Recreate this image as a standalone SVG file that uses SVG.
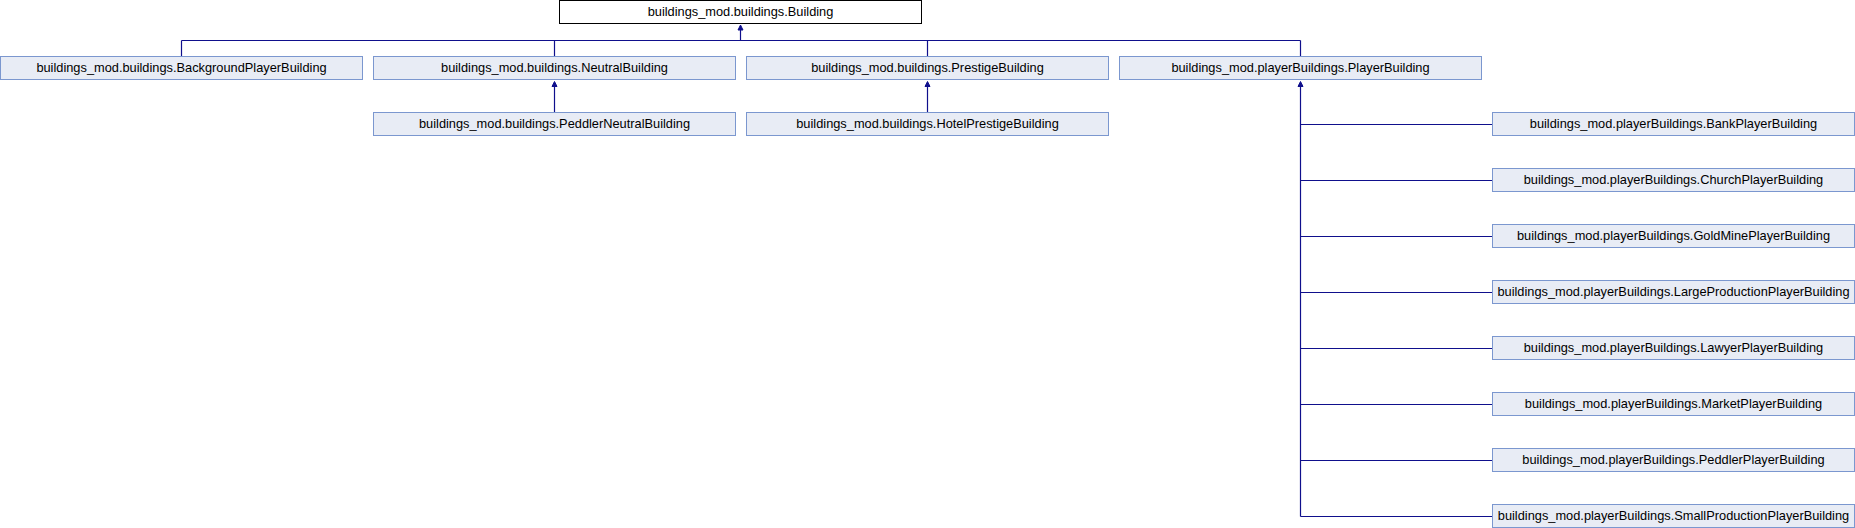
<svg xmlns="http://www.w3.org/2000/svg" width="1855" height="528" viewBox="0 0 1855 528">
<defs>
<style>
.n rect{fill:#e8ecf5;stroke:#7b97cf;stroke-width:1}
.top rect{fill:#ffffff;stroke:#000000;stroke-width:1}
text{font-family:"Liberation Sans",Arial,sans-serif;font-size:12.8px;fill:#000000;text-anchor:middle}
.e line{stroke:#0f0f8c;stroke-width:1.2;fill:none}
.e polygon{fill:#0f0f8c;stroke:#0f0f8c;stroke-width:1}
</style>
</defs>
<rect x="0" y="0" width="1855" height="528" fill="#ffffff"/>
<g id="connectors" class="e">
<line x1="740.5" y1="40.5" x2="740.5" y2="30"/>
<polygon points="738,30 740.5,25 743,30"/>
<line x1="181.5" y1="40.5" x2="1300.5" y2="40.5"/>
<line x1="181.5" y1="40.5" x2="181.5" y2="56.5"/>
<line x1="554.5" y1="40.5" x2="554.5" y2="56.5"/>
<line x1="927.5" y1="40.5" x2="927.5" y2="56.5"/>
<line x1="1300.5" y1="40.5" x2="1300.5" y2="56.5"/>
<line x1="554.5" y1="112.5" x2="554.5" y2="86.5"/>
<polygon points="552,86.5 554.5,81.5 557,86.5"/>
<line x1="927.5" y1="112.5" x2="927.5" y2="86.5"/>
<polygon points="925,86.5 927.5,81.5 930,86.5"/>
<line x1="1300.5" y1="516.5" x2="1300.5" y2="86.5"/>
<polygon points="1298,86.5 1300.5,81.5 1303,86.5"/>
<line x1="1300.5" y1="124.5" x2="1492.5" y2="124.5"/>
<line x1="1300.5" y1="180.5" x2="1492.5" y2="180.5"/>
<line x1="1300.5" y1="236.5" x2="1492.5" y2="236.5"/>
<line x1="1300.5" y1="292.5" x2="1492.5" y2="292.5"/>
<line x1="1300.5" y1="348.5" x2="1492.5" y2="348.5"/>
<line x1="1300.5" y1="404.5" x2="1492.5" y2="404.5"/>
<line x1="1300.5" y1="460.5" x2="1492.5" y2="460.5"/>
<line x1="1300.5" y1="516.5" x2="1492.5" y2="516.5"/>
</g>
<g id="Building" class="top"><rect x="559.5" y="0.5" width="362" height="23"/><text x="740.5" y="16">buildings_mod.buildings.Building</text></g>
<g id="BackgroundPlayerBuilding" class="n"><rect x="0.5" y="56.5" width="362" height="23"/><text x="181.5" y="72">buildings_mod.buildings.BackgroundPlayerBuilding</text></g>
<g id="NeutralBuilding" class="n"><rect x="373.5" y="56.5" width="362" height="23"/><text x="554.5" y="72">buildings_mod.buildings.NeutralBuilding</text></g>
<g id="PrestigeBuilding" class="n"><rect x="746.5" y="56.5" width="362" height="23"/><text x="927.5" y="72">buildings_mod.buildings.PrestigeBuilding</text></g>
<g id="PlayerBuilding" class="n"><rect x="1119.5" y="56.5" width="362" height="23"/><text x="1300.5" y="72">buildings_mod.playerBuildings.PlayerBuilding</text></g>
<g id="PeddlerNeutralBuilding" class="n"><rect x="373.5" y="112.5" width="362" height="23"/><text x="554.5" y="128">buildings_mod.buildings.PeddlerNeutralBuilding</text></g>
<g id="HotelPrestigeBuilding" class="n"><rect x="746.5" y="112.5" width="362" height="23"/><text x="927.5" y="128">buildings_mod.buildings.HotelPrestigeBuilding</text></g>
<g id="BankPlayerBuilding" class="n"><rect x="1492.5" y="112.5" width="362" height="23"/><text x="1673.5" y="128">buildings_mod.playerBuildings.BankPlayerBuilding</text></g>
<g id="ChurchPlayerBuilding" class="n"><rect x="1492.5" y="168.5" width="362" height="23"/><text x="1673.5" y="184">buildings_mod.playerBuildings.ChurchPlayerBuilding</text></g>
<g id="GoldMinePlayerBuilding" class="n"><rect x="1492.5" y="224.5" width="362" height="23"/><text x="1673.5" y="240">buildings_mod.playerBuildings.GoldMinePlayerBuilding</text></g>
<g id="LargeProductionPlayerBuilding" class="n"><rect x="1492.5" y="280.5" width="362" height="23"/><text x="1673.5" y="296">buildings_mod.playerBuildings.LargeProductionPlayerBuilding</text></g>
<g id="LawyerPlayerBuilding" class="n"><rect x="1492.5" y="336.5" width="362" height="23"/><text x="1673.5" y="352">buildings_mod.playerBuildings.LawyerPlayerBuilding</text></g>
<g id="MarketPlayerBuilding" class="n"><rect x="1492.5" y="392.5" width="362" height="23"/><text x="1673.5" y="408">buildings_mod.playerBuildings.MarketPlayerBuilding</text></g>
<g id="PeddlerPlayerBuilding" class="n"><rect x="1492.5" y="448.5" width="362" height="23"/><text x="1673.5" y="464">buildings_mod.playerBuildings.PeddlerPlayerBuilding</text></g>
<g id="SmallProductionPlayerBuilding" class="n"><rect x="1492.5" y="504.5" width="362" height="23"/><text x="1673.5" y="520">buildings_mod.playerBuildings.SmallProductionPlayerBuilding</text></g>
</svg>
